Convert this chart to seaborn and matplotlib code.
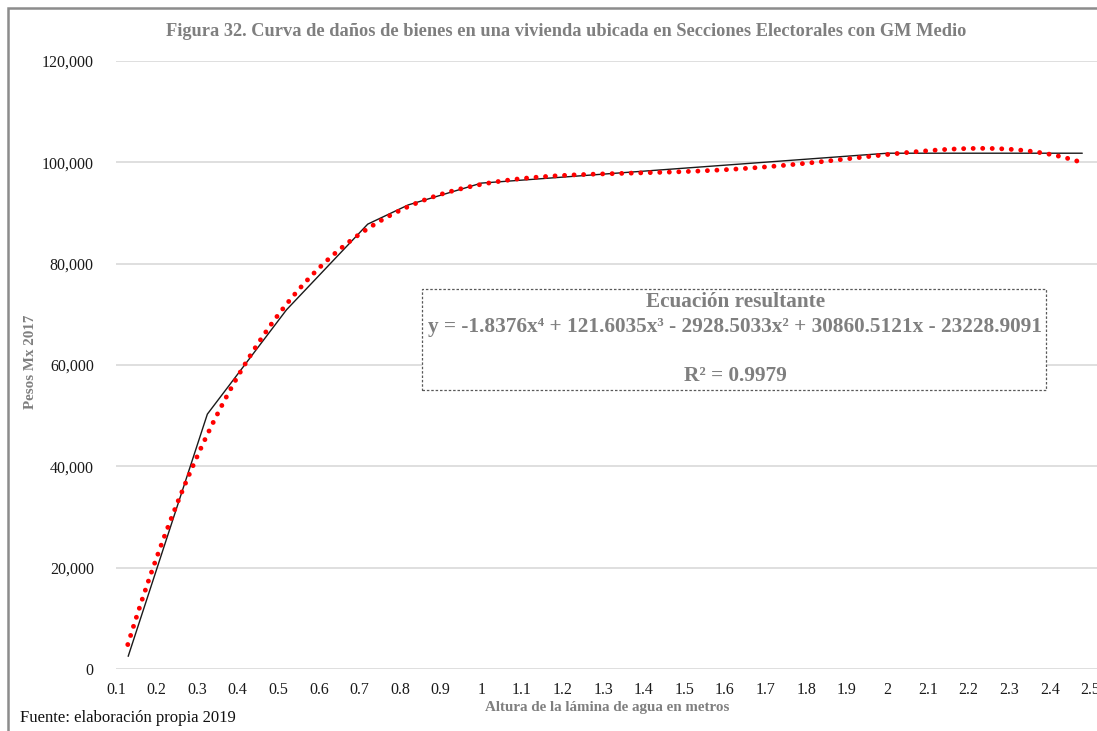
import numpy as np
import pandas as pd
import matplotlib
matplotlib.use("Agg")
import matplotlib.pyplot as plt
from matplotlib.patches import Rectangle
import seaborn as sns

# ---- data ----
depth_m = [0.13, 0.325, 0.52, 0.72, 0.82, 1.0, 2.0, 2.48]
damage_mxn = [2500, 50300, 70900, 87800, 91600, 95900, 101800, 101800]

# polynomial trendline coefficients shown in the chart (x = category index 1..25)
trend_coefs = [-1.8376, 121.6035, -2928.5033, 30860.5121, -23228.9091]
trend_index_range = [1, 25]
trend_x_range = [0.129, 2.469]

x_ticks = [0.1, 0.2, 0.3, 0.4, 0.5, 0.6, 0.7, 0.8, 0.9, 1.0, 1.1, 1.2, 1.3,
           1.4, 1.5, 1.6, 1.7, 1.8, 1.9, 2.0, 2.1, 2.2, 2.3, 2.4, 2.5]
y_ticks = [0, 20000, 40000, 60000, 80000, 100000, 120000]

title = "Figura 32. Curva de daños de bienes en una vivienda ubicada en Secciones Electorales con GM Medio"
x_label = "Altura de la lámina de agua en metros"
y_label = "Pesos Mx 2017"
footer = "Fuente: elaboración propia 2019"
eq_title = "Ecuación resultante"
eq_text = "y = -1.8376x⁴ + 121.6035x³ - 2928.5033x² + 30860.5121x - 23228.9091"
r2_text = "R² = 0.9979"

# ---- styling ----
sns.set_theme(style="white")
SERIF = ["Liberation Serif", "DejaVu Serif"]
plt.rcParams["font.family"] = SERIF
GRAY = "#7f7f7f"

W, H = 1097, 731
fig = plt.figure(figsize=(W / 100, H / 100), dpi=100)
ax = fig.add_axes([116 / W, (H - 669) / H, 984 / W, 608 / H])

df = pd.DataFrame({"depth": depth_m, "damage": damage_mxn})
sns.lineplot(data=df, x="depth", y="damage", ax=ax, color="#1a1a1a",
             linewidth=1.0, zorder=3)

t = np.linspace(trend_index_range[0], trend_index_range[1], 400)
tx = np.interp(t, trend_index_range, trend_x_range)
ty = np.polyval(trend_coefs, t)
tdf = pd.DataFrame({"x": tx, "y": ty})
sns.lineplot(data=tdf, x="x", y="y", ax=ax, color="#ff0000", linewidth=3.5,
             linestyle=(0, (0.01, 1.95)), dash_capstyle="round", zorder=4,
             sort=False)

ax.set_xlim(0.1, 0.1 + 984 / 406)
ax.set_ylim(0, 120000)
ax.set_xticks(x_ticks)
ax.set_xticklabels([f"{v:g}" for v in x_ticks])
ax.set_yticks(y_ticks)
ax.set_yticklabels([f"{v:,}" for v in y_ticks])
ax.tick_params(axis="both", length=0, labelsize=11.5, labelcolor="#1a1a1a")
ax.tick_params(axis="y", pad=16)
ax.tick_params(axis="x", pad=9)
ax.grid(axis="y", color="#d9d9d9", linewidth=1.2)
ax.grid(axis="x", visible=False)
for s in ax.spines.values():
    s.set_visible(False)
ax.set_xlabel("")
ax.set_ylabel("")

fig.text(566 / W, 1 - 32 / H, title, ha="center", va="center",
         fontsize=13.2, fontweight="bold", color=GRAY)
fig.text(30 / W, 1 - 362 / H, y_label, ha="center", va="center",
         rotation=90, fontsize=10.8, fontweight="bold", color=GRAY)
fig.text(607 / W, 1 - 708 / H, x_label, ha="center", va="center",
         fontsize=10.8, fontweight="bold", color=GRAY)
fig.text(20 / W, 1 - 718 / H, footer, ha="left", va="center",
         fontsize=12, color="#111111")

# equation box
box = Rectangle((422 / W, 1 - 390 / H), (1046 - 422) / W, (390 - 289) / H,
                transform=fig.transFigure, fill=True, facecolor="white",
                edgecolor="#595959", linewidth=0.9, linestyle=(0, (2, 1.5)),
                zorder=5)
fig.add_artist(box)
fig.text(736 / W, 1 - 302 / H, eq_title, ha="center", va="center",
         fontsize=15.3, fontweight="bold", color=GRAY, zorder=6)
fig.text(735 / W, 1 - 327 / H, eq_text, ha="center", va="center",
         fontsize=15.3, fontweight="bold", color=GRAY, zorder=6)
fig.text(735 / W, 1 - 376 / H, r2_text, ha="center", va="center",
         fontsize=15.3, fontweight="bold", color=GRAY, zorder=6)

# chart frame
frame = Rectangle((8 / W, -0.1), 1.2, 1 - 8 / H + 0.1,
                  transform=fig.transFigure, fill=False,
                  edgecolor="#8c8c8c", linewidth=1.8, zorder=1)
fig.add_artist(frame)

fig.savefig("out.png", dpi=100)
